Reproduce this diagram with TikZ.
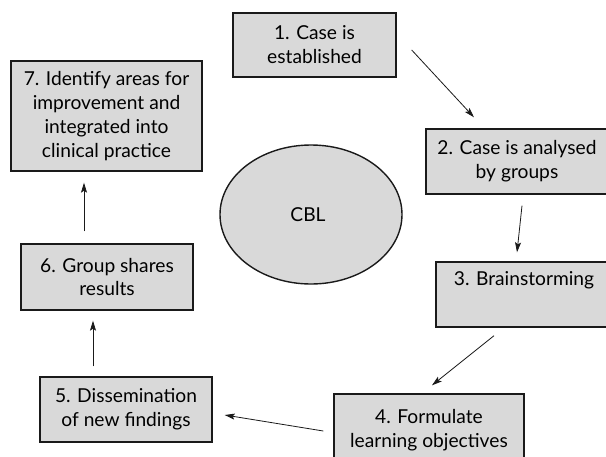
\documentclass[tikz,border=0pt]{standalone}
\usepackage{fontspec}
\setmainfont{Lato}
\usetikzlibrary{arrows.meta,shapes.geometric}
\definecolor{boxfill}{HTML}{D9D9D9}
\definecolor{edge}{HTML}{1A1A1A}
\tikzset{
  stepbox/.style={draw=edge, line width=1.4pt, fill=boxfill, rectangle, align=center,
    inner sep=0pt, font=\fontsize{19.2}{24}\selectfont, text=black},
  arr/.style={draw=edge, line width=0.8pt, -{Stealth[length=10pt,width=6pt,inset=2pt]}},
}
\begin{document}
\begin{tikzpicture}[x=1pt,y=-1pt]
\clip (0,0) rectangle (606,456);
\fill[white] (0,0) rectangle (606,456);
\node[stepbox, minimum width=163pt, minimum height=64pt] (b1) at (314.5,45) {1. Case is\\established};
\node[stepbox, minimum width=182pt, minimum height=65pt] (b2) at (517,161.5) {2. Case is analysed\\by groups};
\node[stepbox, minimum width=176pt, minimum height=65pt] (b3) at (524,294.5) {3. Brainstorming\\\strut};
\node[stepbox, minimum width=190pt, minimum height=72pt] (b4) at (429,430) {4. Formulate\\learning objectives};
\node[stepbox, minimum width=172pt, minimum height=65pt] (b5) at (126,409.5) {5. Dissemination\\of new findings};
\node[stepbox, minimum width=172pt, minimum height=66pt] (b6) at (107,277) {6. Group shares\\results};
\node[stepbox, minimum width=191pt, minimum height=110pt] (b7) at (106.5,116) {7. Identify areas for\\improvement and\\integrated into\\clinical practice};
\node[draw=edge, line width=1.4pt, fill=boxfill, ellipse, minimum width=182pt, minimum height=139pt,
  inner sep=0pt, font=\fontsize{19.2}{22}\selectfont] (cbl) at (311,214.5) {\raisebox{-3pt}{CBL}\hspace*{6pt}};
\draw[arr] ([shift={(15,5)}]b1.east) -- ([shift={(-43,-11)}]b2.north);
\draw[arr] ([shift={(5,11)}]b2.south) -- ([shift={(-7,-9)}]b3.north);
\draw[arr] ([shift={(-30,8)}]b3.south) -- ([shift={(3,-8)}]b4.north);
\draw[arr] ([shift={(-10,1)}]b4.west) -- ([shift={(12,5.5)}]b5.east);
\draw[arr] ([shift={(-33,-10)}]b5.north) -- ([shift={(-14,10)}]b6.south);
\draw[arr] ([shift={(-23,-12)}]b6.north) -- ([shift={(-22.5,11)}]b7.south);
\end{tikzpicture}
\end{document}
